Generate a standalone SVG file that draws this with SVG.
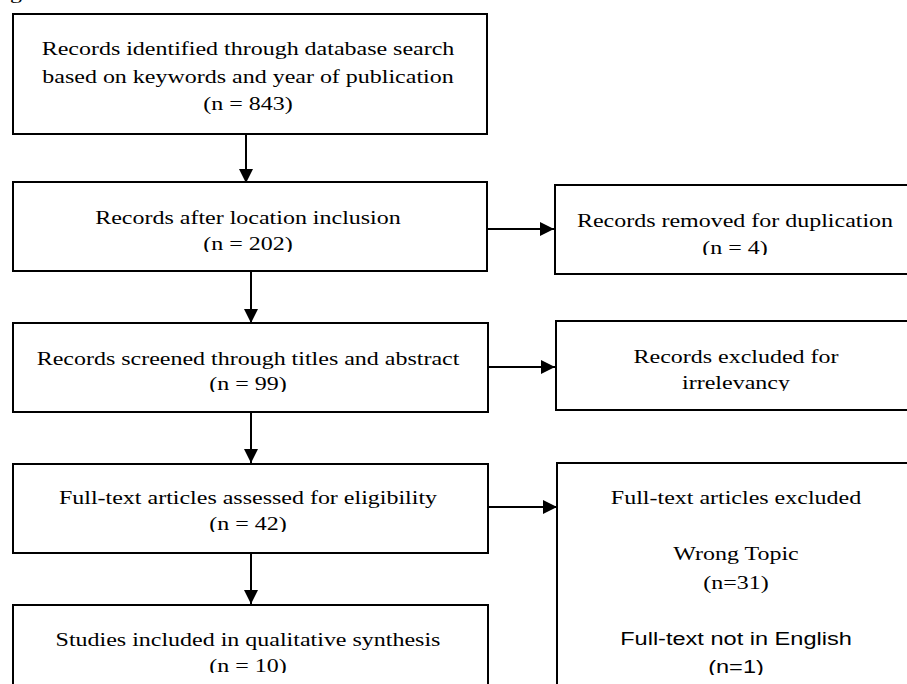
<svg xmlns="http://www.w3.org/2000/svg" width="907" height="684" viewBox="0 0 907 684">
  <style>
    .box { fill: #ffffff; stroke: #000000; stroke-width: 2; }
    .edge { fill: none; stroke: #000000; stroke-width: 2; }
    .t { font-family: "Liberation Serif", "Times New Roman", serif; font-size: 19.5px; fill: #000000; text-anchor: middle; }
    .s { font-family: "Liberation Sans", Arial, sans-serif; font-size: 19px; fill: #000000; text-anchor: middle; }
  </style>
  <defs>
    <marker id="arrow" markerUnits="userSpaceOnUse" markerWidth="14" markerHeight="14" refX="14" refY="7" orient="auto">
      <path d="M0,0 L14,7 L0,14 Z" fill="#000000"/>
    </marker>
    <!-- text areas clip the last line just under its baseline -->
    <clipPath id="c2"><rect x="0" y="183" width="500" height="69"/></clipPath>
    <clipPath id="c3"><rect x="0" y="324" width="500" height="68"/></clipPath>
    <clipPath id="c4"><rect x="0" y="465" width="500" height="67"/></clipPath>
    <clipPath id="c5"><rect x="0" y="606" width="500" height="67"/></clipPath>
    <clipPath id="r1"><rect x="556" y="186" width="360" height="69"/></clipPath>
    <clipPath id="r2"><rect x="557" y="323" width="360" height="68"/></clipPath>
    <clipPath id="r3"><rect x="558" y="464" width="360" height="211"/></clipPath>
  </defs>

  <rect width="907" height="684" fill="#ffffff"/>

  <!-- caption tail above the chart -->
  <text class="t" transform="translate(16,-1) scale(1.23,1)">g</text>

  <g id="connectors">
    <line class="edge" x1="246" y1="134" x2="246" y2="183" marker-end="url(#arrow)"/>
    <line class="edge" x1="251" y1="271" x2="251" y2="323" marker-end="url(#arrow)"/>
    <line class="edge" x1="251" y1="412" x2="251" y2="463" marker-end="url(#arrow)"/>
    <line class="edge" x1="251" y1="553" x2="251" y2="604" marker-end="url(#arrow)"/>
    <line class="edge" x1="488" y1="229" x2="554" y2="229" marker-end="url(#arrow)"/>
    <line class="edge" x1="489" y1="367" x2="555" y2="367" marker-end="url(#arrow)"/>
    <line class="edge" x1="489" y1="507" x2="557" y2="507" marker-end="url(#arrow)"/>
  </g>

  <g id="identified">
    <rect class="box" x="13" y="14" width="474" height="120"/>
    <text class="t" transform="translate(248,55) scale(1.23,1)">Records identified through database search</text>
    <text class="t" transform="translate(248,83) scale(1.23,1)">based on keywords and year of publication</text>
    <text class="t" transform="translate(248,110) scale(1.23,1)">(n = 843)</text>
  </g>

  <g id="location">
    <rect class="box" x="13" y="182" width="474" height="89"/>
    <g clip-path="url(#c2)">
      <text class="t" transform="translate(248,224) scale(1.23,1)">Records after location inclusion</text>
      <text class="t" transform="translate(248,250) scale(1.23,1)">(n = 202)</text>
    </g>
  </g>

  <g id="screened">
    <rect class="box" x="13" y="323" width="475" height="89"/>
    <g clip-path="url(#c3)">
      <text class="t" transform="translate(248,365) scale(1.23,1)">Records screened through titles and abstract</text>
      <text class="t" transform="translate(248,390) scale(1.23,1)">(n = 99)</text>
    </g>
  </g>

  <g id="eligibility">
    <rect class="box" x="13" y="464" width="475" height="89"/>
    <g clip-path="url(#c4)">
      <text class="t" transform="translate(248,504) scale(1.23,1)">Full-text articles assessed for eligibility</text>
      <text class="t" transform="translate(248,530) scale(1.23,1)">(n = 42)</text>
    </g>
  </g>

  <g id="included">
    <rect class="box" x="13" y="605" width="475" height="100"/>
    <g clip-path="url(#c5)">
      <text class="t" transform="translate(248,646) scale(1.23,1)">Studies included in qualitative synthesis</text>
      <text class="t" transform="translate(248,672) scale(1.23,1)">(n = 10)</text>
    </g>
  </g>

  <g id="duplicates">
    <rect class="box" x="555" y="185" width="365" height="89"/>
    <g clip-path="url(#r1)">
      <text class="t" transform="translate(735,227) scale(1.23,1)">Records removed for duplication</text>
      <text class="t" transform="translate(735,254) scale(1.23,1)">(n = 4)</text>
    </g>
  </g>

  <g id="irrelevant">
    <rect class="box" x="556" y="321" width="365" height="89"/>
    <g clip-path="url(#r2)">
      <text class="t" transform="translate(736,363) scale(1.23,1)">Records excluded for</text>
      <text class="t" transform="translate(736,389) scale(1.23,1)">irrelevancy</text>
    </g>
  </g>

  <g id="excluded">
    <rect class="box" x="557" y="463" width="365" height="240"/>
    <g clip-path="url(#r3)">
      <text class="t" transform="translate(736,504) scale(1.23,1)">Full-text articles excluded</text>
      <text class="t" transform="translate(736,560) scale(1.23,1)">Wrong Topic</text>
      <text class="t" transform="translate(736,589) scale(1.23,1)">(n=31)</text>
      <text class="s" transform="translate(736,645) scale(1.24,1)">Full-text not in English</text>
      <text class="s" transform="translate(736,673) scale(1.24,1)">(n=1)</text>
    </g>
  </g>
</svg>
